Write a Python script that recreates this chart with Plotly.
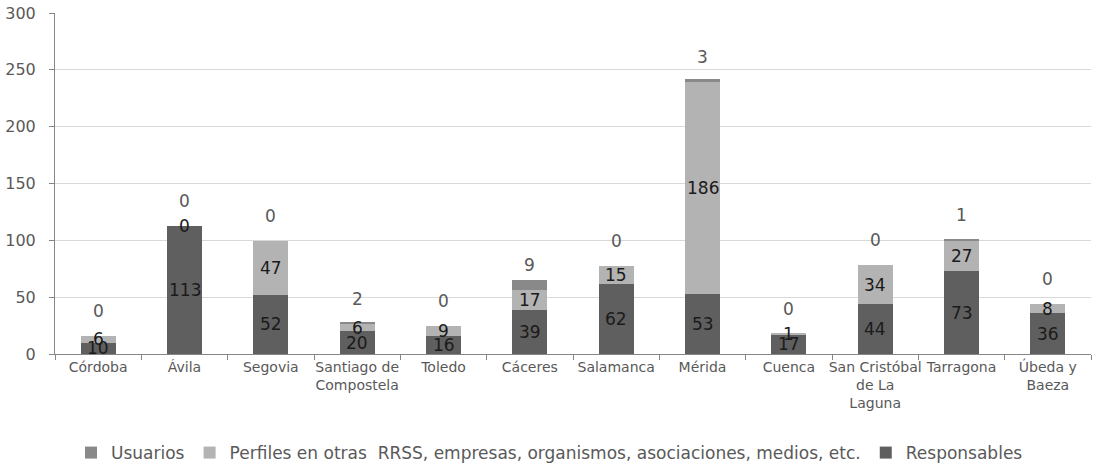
import plotly.graph_objects as go

categories = ["Córdoba", "Ávila", "Segovia", "Santiago de<br>Compostela", "Toledo", "Cáceres",
              "Salamanca", "Mérida", "Cuenca", "San Cristóbal<br>de La<br>Laguna", "Tarragona",
              "Úbeda y<br>Baeza"]
responsables = [10, 113, 52, 20, 16, 39, 62, 53, 17, 44, 73, 36]
perfiles = [6, 0, 47, 6, 9, 17, 15, 186, 1, 34, 27, 8]
usuarios = [0, 0, 0, 2, 0, 9, 0, 3, 0, 0, 1, 0]

FONT = "DejaVu Sans"
C_RESP = "#5f5f5f"
C_PERF = "#b3b3b3"
C_USU = "#898989"

fig = go.Figure()
fig.add_trace(go.Bar(name="Responsables", x=categories, y=responsables, marker_color=C_RESP,
                     marker_line_width=0))
fig.add_trace(go.Bar(name="Perfiles en otras  RRSS, empresas, organismos, asociaciones, medios, etc.",
                     x=categories, y=perfiles, marker_color=C_PERF, marker_line_width=0))
fig.add_trace(go.Bar(name="Usuarios", x=categories, y=usuarios, marker_color=C_USU,
                     marker_line_width=0))

annotations = []
for i, c in enumerate(categories):
    r, p, u = responsables[i], perfiles[i], usuarios[i]
    annotations.append(dict(x=c, y=r / 2, text=str(r), showarrow=False,
                            font=dict(family=FONT, size=17, color="#1a1a1a")))
    annotations.append(dict(x=c, y=r + p / 2, text=str(p), showarrow=False,
                            font=dict(family=FONT, size=17, color="#1a1a1a")))
    annotations.append(dict(x=c, y=r + p, text=str(u), showarrow=False, yshift=25,
                            font=dict(family=FONT, size=17, color="#595959")))

fig.update_layout(
    barmode="stack",
    bargap=0.595,
    width=1099, height=468,
    margin=dict(l=55, r=8, t=13, b=114, autoexpand=False),
    plot_bgcolor="white", paper_bgcolor="white",
    font=dict(family=FONT, color="#595959"),
    annotations=annotations,
    showlegend=True,
    legend=dict(orientation="h", xref="container", x=0.5, xanchor="center",
                yref="container", y=0.032, yanchor="middle",
                traceorder="reversed", font=dict(family=FONT, size=17, color="#595959"),
                itemwidth=30, tracegroupgap=0),
    xaxis=dict(showline=True, linecolor="#868686", linewidth=1, ticks="outside",
               tickson="boundaries", ticklen=5, tickcolor="#868686", tickangle=0,
               automargin=False,
               tickfont=dict(family=FONT, size=14, color="#595959")),
    yaxis=dict(range=[0, 300], dtick=50, showgrid=True, gridcolor="#d9d9d9",
               showline=True, linecolor="#868686", ticks="outside", ticklen=5,
               tickcolor="#868686", zeroline=False, automargin=False,
               ticklabelstandoff=10,
               tickfont=dict(family=FONT, size=16, color="#595959")),
)

fig.write_html("out.html", config={"displayModeBar": False},
               post_script="document.body.style.margin='0';document.body.style.overflow='hidden';")
